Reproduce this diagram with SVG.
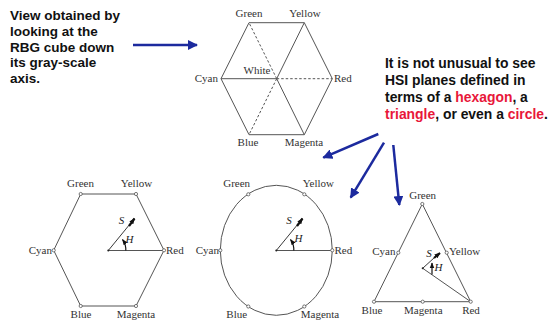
<svg xmlns="http://www.w3.org/2000/svg" width="549" height="332" viewBox="0 0 549 332">
<defs>
<marker id="ba" viewBox="0 0 10 10" refX="9" refY="5" markerWidth="4" markerHeight="4" orient="auto" markerUnits="strokeWidth"><path d="M0,0 L10,5 L0,10 z" fill="#1c2a9e"/></marker>
<marker id="sa" viewBox="0 0 10 10" refX="9" refY="5" markerWidth="6" markerHeight="6" orient="auto" markerUnits="userSpaceOnUse"><path d="M0,1 L10,5 L0,9 z" fill="#111"/></marker>
</defs>
<style>
.lbl{font-family:"Liberation Serif","Times New Roman",serif;font-size:11px;fill:#333}
.it{font-family:"Liberation Serif","Times New Roman",serif;font-size:11px;font-style:italic;fill:#222}
.note{font-family:"Liberation Sans",Arial,sans-serif;font-weight:bold;font-size:13.5px;fill:#111}
.note2{font-family:"Liberation Sans",Arial,sans-serif;font-weight:bold;font-size:13.9px;fill:#111}
.red{fill:#e8173a}
.sh{fill:none;stroke:#555;stroke-width:1}
.dash{fill:none;stroke:#555;stroke-width:1;stroke-dasharray:2.5,2}
.v{fill:#fff;stroke:#555;stroke-width:0.8}
.blue{stroke:#1c2a9e;stroke-width:2.5;fill:none;marker-end:url(#ba)}
.s{stroke:#222;stroke-width:0.9;fill:none}
.sb{stroke:#111;stroke-width:2.2;fill:none;marker-end:url(#sa)}
.ha{stroke:#111;stroke-width:1.2;fill:none;marker-end:url(#sa)}
</style>
<rect width="549" height="332" fill="#fff"/>

<g id="note-left">
<text class="note" x="10" y="20">View obtained by</text>
<text class="note" x="10" y="36">looking at the</text>
<text class="note" x="10" y="52">RBG cube down</text>
<text class="note" x="10" y="67">its gray-scale</text>
<text class="note" x="10" y="83">axis.</text>
</g>

<g id="note-right">
<text class="note2" x="385" y="68">It is not unusual to see</text>
<text class="note2" x="385" y="85">HSI planes defined in</text>
<text class="note2" x="385" y="102">terms of a <tspan class="red">hexagon</tspan>, a</text>
<text class="note2" x="385" y="119"><tspan class="red">triangle</tspan>, or even a <tspan class="red">circle</tspan>.</text>
</g>

<g id="top-hexagon">
<polygon class="sh" points="249,22.7 304.3,22.7 332.3,78.7 304.3,134.7 249,134.7 221,78.7"/>
<line class="sh" x1="276.7" y1="78.7" x2="221" y2="78.7"/>
<line class="sh" x1="276.7" y1="78.7" x2="304.3" y2="22.7"/>
<line class="sh" x1="276.7" y1="78.7" x2="304.3" y2="134.7"/>
<line class="dash" x1="276.7" y1="78.7" x2="249" y2="22.7"/>
<line class="dash" x1="276.7" y1="78.7" x2="332.3" y2="78.7"/>
<line class="dash" x1="276.7" y1="78.7" x2="249" y2="134.7"/>
<text class="lbl" x="249" y="17" text-anchor="middle">Green</text>
<text class="lbl" x="305" y="17" text-anchor="middle">Yellow</text>
<text class="lbl" x="218" y="82" text-anchor="end">Cyan</text>
<text class="lbl" x="334" y="82">Red</text>
<text class="lbl" x="257" y="74" text-anchor="middle">White</text>
<text class="lbl" x="248" y="146" text-anchor="middle">Blue</text>
<text class="lbl" x="304" y="146" text-anchor="middle">Magenta</text>
</g>

<g id="hexagon">
<polygon class="sh" points="80.7,194 136,194 164,250.3 136,306 80.7,306 53.7,250.3"/>
<line class="sh" x1="108.3" y1="250.5" x2="164" y2="250.5"/>
<line class="s" x1="108.3" y1="250.5" x2="130" y2="224"/>
<line class="sb" x1="129" y1="226" x2="134.5" y2="218.5"/>
<path class="ha" d="M125.8,250.5 A17.5,17.5 0 0 0 122.5,239.5"/>
<circle cx="108.3" cy="250.5" r="1" fill="#222"/>
<circle class="v" cx="80.7" cy="194" r="1.6"/><circle class="v" cx="136" cy="194" r="1.6"/>
<circle class="v" cx="164" cy="250.3" r="1.6"/><circle class="v" cx="136" cy="306" r="1.6"/>
<circle class="v" cx="80.7" cy="306" r="1.6"/><circle class="v" cx="53.7" cy="250.3" r="1.6"/>
<text class="it" x="121.5" y="224" text-anchor="middle">S</text>
<text class="it" x="129.5" y="243" text-anchor="middle">H</text>
<text class="lbl" x="80.5" y="187" text-anchor="middle">Green</text>
<text class="lbl" x="136.5" y="187" text-anchor="middle">Yellow</text>
<text class="lbl" x="52" y="254" text-anchor="end">Cyan</text>
<text class="lbl" x="166" y="254">Red</text>
<text class="lbl" x="81" y="318" text-anchor="middle">Blue</text>
<text class="lbl" x="136" y="318" text-anchor="middle">Magenta</text>
</g>

<g id="circle">
<ellipse class="sh" cx="276.3" cy="250.3" rx="56" ry="65"/>
<line class="sh" x1="276.3" y1="250.5" x2="332.3" y2="250.5"/>
<line class="s" x1="276.3" y1="250.5" x2="298" y2="224"/>
<line class="sb" x1="297" y1="226" x2="302.5" y2="218.5"/>
<path class="ha" d="M293.8,250.5 A17.5,17.5 0 0 0 290.5,239.5"/>
<circle cx="276.3" cy="250.5" r="1" fill="#222"/>
<circle class="v" cx="248.3" cy="194.3" r="1.6"/><circle class="v" cx="304.3" cy="194.3" r="1.6"/>
<circle class="v" cx="332.3" cy="250.3" r="1.6"/><circle class="v" cx="304.3" cy="306.5" r="1.6"/>
<circle class="v" cx="248.3" cy="306.5" r="1.6"/><circle class="v" cx="220.3" cy="250.3" r="1.6"/>
<text class="it" x="289" y="224" text-anchor="middle">S</text>
<text class="it" x="298.5" y="242" text-anchor="middle">H</text>
<text class="lbl" x="236.7" y="187" text-anchor="middle">Green</text>
<text class="lbl" x="318.3" y="187" text-anchor="middle">Yellow</text>
<text class="lbl" x="219" y="254" text-anchor="end">Cyan</text>
<text class="lbl" x="334.5" y="254">Red</text>
<text class="lbl" x="236.7" y="318" text-anchor="middle">Blue</text>
<text class="lbl" x="320" y="318" text-anchor="middle">Magenta</text>
</g>

<g id="triangle">
<polygon class="sh" points="422.3,204 470.7,301.7 374,301.7"/>
<line class="sh" x1="422.7" y1="268.3" x2="470.7" y2="301.7"/>
<line class="s" x1="422.7" y1="268.3" x2="434.5" y2="257.5"/>
<line class="sb" x1="434" y1="258" x2="440" y2="253"/>
<line class="ha" x1="432" y1="274.5" x2="432" y2="263"/>
<circle cx="422.7" cy="268.3" r="1" fill="#222"/>
<circle class="v" cx="422.3" cy="204" r="1.6"/><circle class="v" cx="398.3" cy="252.7" r="1.6"/>
<circle class="v" cx="446.7" cy="252.7" r="1.6"/><circle class="v" cx="374" cy="301.7" r="1.6"/>
<circle class="v" cx="422.7" cy="301.7" r="1.6"/><circle class="v" cx="470.7" cy="301.7" r="1.6"/>
<text class="it" x="429" y="257" text-anchor="middle">S</text>
<text class="it" x="438.5" y="271" text-anchor="middle">H</text>
<text class="lbl" x="422.7" y="199" text-anchor="middle">Green</text>
<text class="lbl" x="395.5" y="255" text-anchor="end">Cyan</text>
<text class="lbl" x="449" y="255">Yellow</text>
<text class="lbl" x="372" y="314" text-anchor="middle">Blue</text>
<text class="lbl" x="423.3" y="314" text-anchor="middle">Magenta</text>
<text class="lbl" x="471" y="314" text-anchor="middle">Red</text>
</g>

<g id="connectors">
<line class="blue" x1="133" y1="45" x2="197" y2="45"/>
<line class="blue" x1="378.3" y1="134" x2="323.3" y2="157.7"/>
<line class="blue" x1="384" y1="142.7" x2="350.7" y2="197.7"/>
<line class="blue" x1="393.3" y1="145" x2="399.3" y2="205"/>
</g>
</svg>
